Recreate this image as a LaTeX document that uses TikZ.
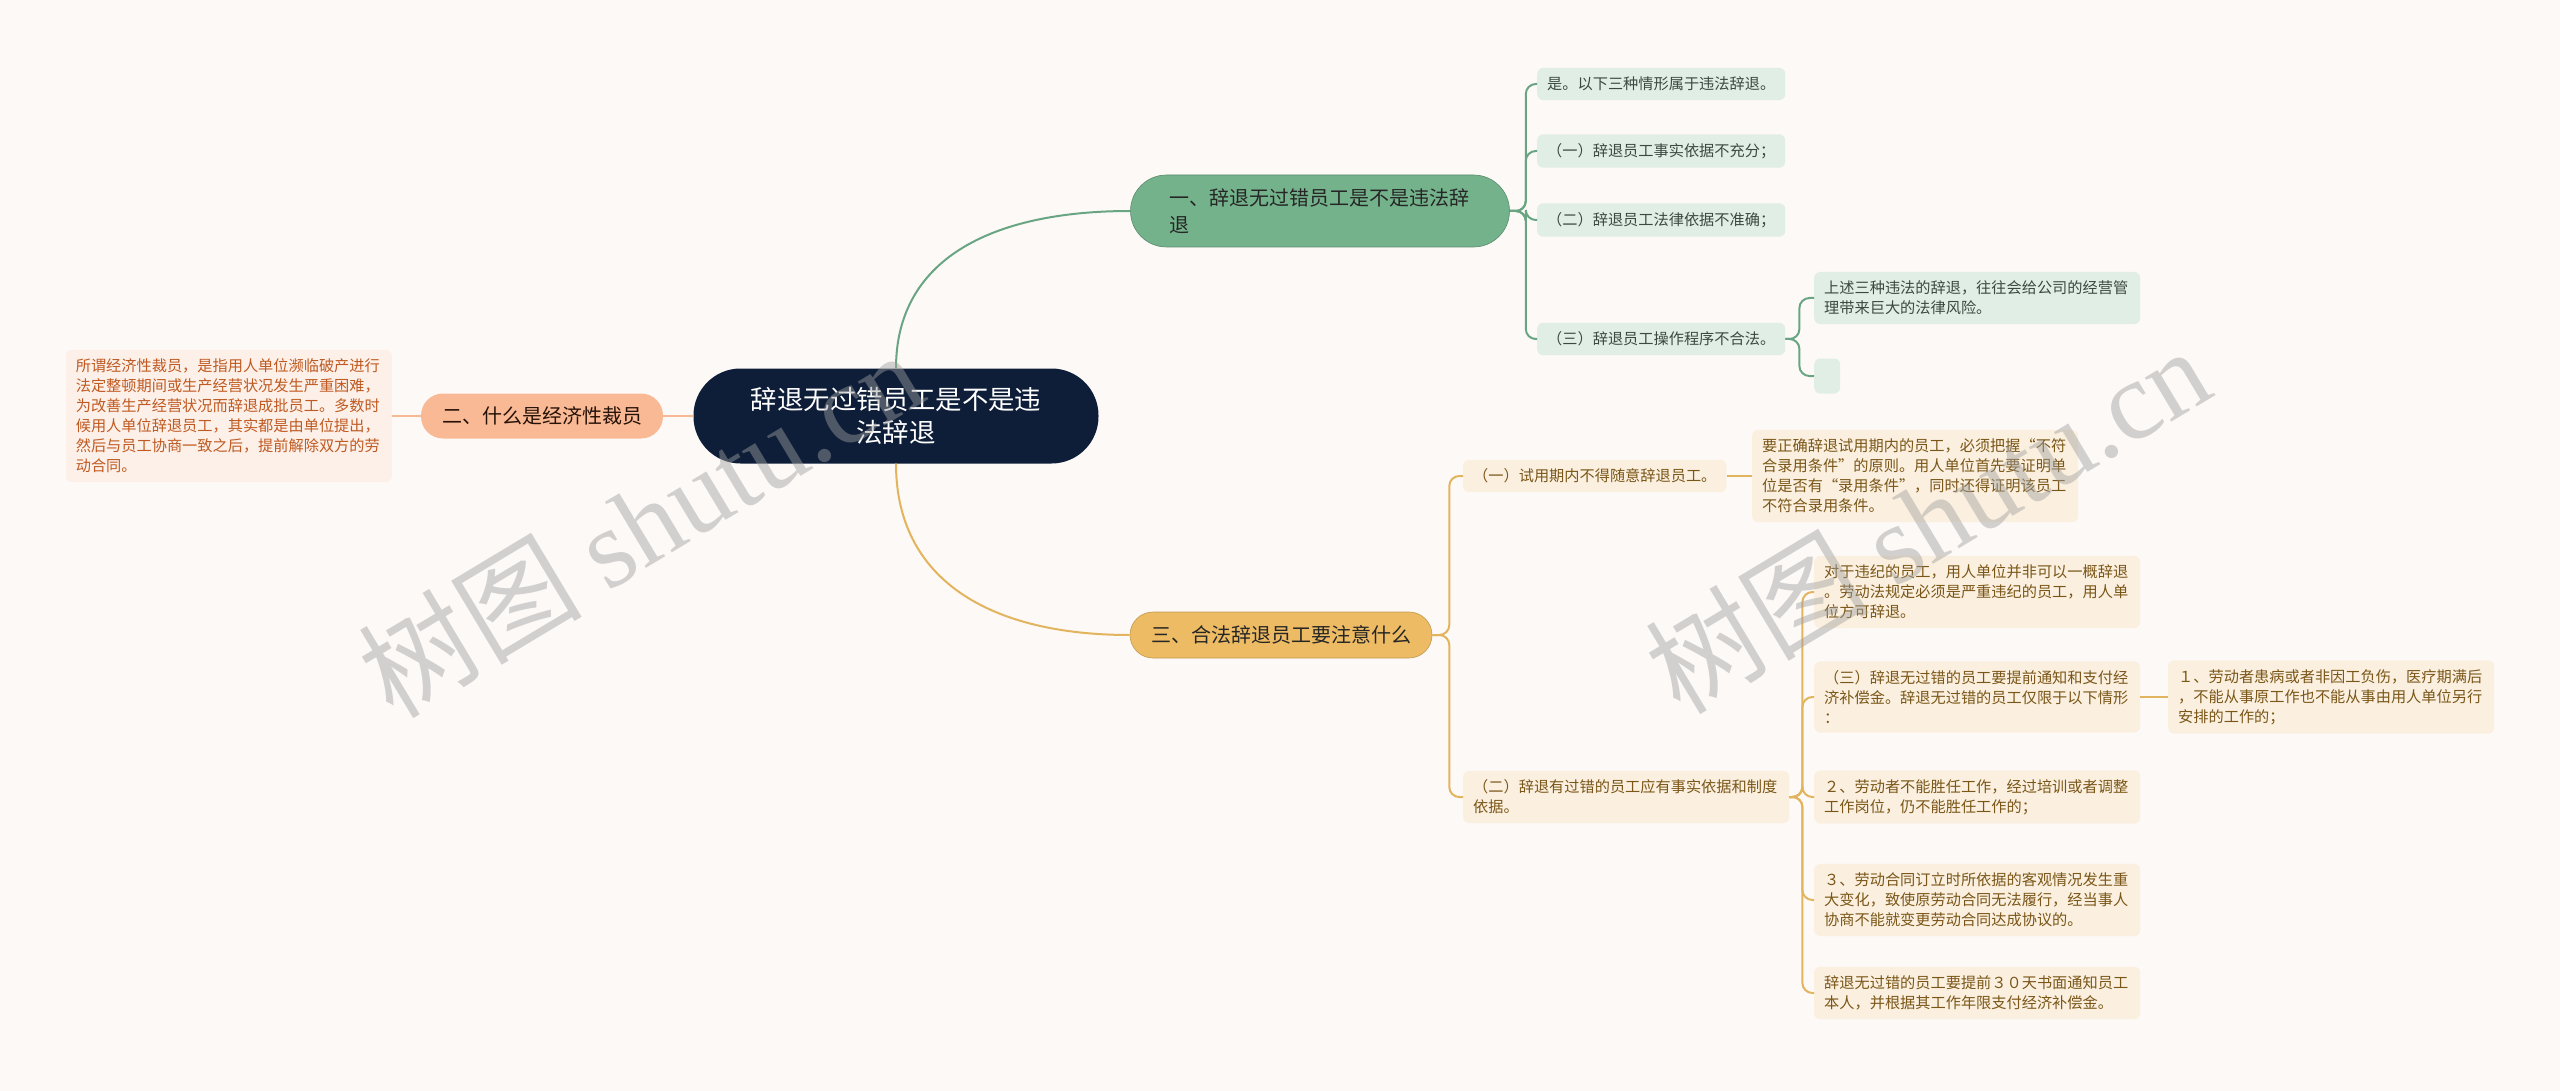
\documentclass[tikz,border=0pt]{standalone}
\usepackage{fontspec}
\usepackage{tikz}
\usetikzlibrary{calc}
\newfontfamily\cjk{Noto Sans CJK SC}
\newfontfamily\wmlatin{Liberation Serif}

\definecolor{bgcol}{HTML}{FDF9F7}
\definecolor{rootcol}{HTML}{0E1E38}
\definecolor{greenmain}{HTML}{74B28B}
\definecolor{greenline}{HTML}{6AA583}
\definecolor{greenleaf}{HTML}{E1EEE5}
\definecolor{greentext}{HTML}{3A4A40}
\definecolor{orangemain}{HTML}{F9B995}
\definecolor{orangeleaf}{HTML}{FDF0E8}
\definecolor{orangetext}{HTML}{BF5A22}
\definecolor{yellowmain}{HTML}{EDBB63}
\definecolor{yellowline}{HTML}{E3B45E}
\definecolor{yellowleaf}{HTML}{FBF0DF}
\definecolor{yellowtext}{HTML}{7A5618}

\tikzset{
  leaf/.style={rounded corners=6pt, inner xsep=10pt, inner ysep=9pt,
    font=\cjk\fontsize{15.2}{20}\selectfont, align=left, anchor=west},
  gleaf/.style={leaf, fill=greenleaf, text=greentext},
  yleaf/.style={leaf, fill=yellowleaf, text=yellowtext},
  oleaf/.style={leaf, fill=orangeleaf, text=orangetext},
  topic/.style={font=\cjk\fontsize{20}{27}\selectfont, inner sep=0pt},
  gline/.style={draw=greenline, line width=2pt, rounded corners=10pt},
  yline/.style={draw=yellowline, line width=2pt, rounded corners=10pt},
  oline/.style={draw=orangemain, line width=2pt},
  wmark/.style={text=gray!75, opacity=0.45, rotate=31,
    font=\cjk\fontsize{112}{112}\selectfont}
}

\begin{document}
\begin{tikzpicture}[x=1pt, y=-1pt]
  \useasboundingbox (0,0) rectangle (2560,1091);
  \fill[bgcol] (0,0) rectangle (2560,1091);

  % Root
  \node[fill=rootcol, text=white, rounded corners=47pt, minimum width=405pt,
    minimum height=95pt, text width=292pt, align=center, inner sep=0pt,
    font=\cjk\fontsize{26.4}{33}\selectfont] (root) at (896,416)
    {辞退无过错员工是不是违\\法辞退};

  % Main topics
  \node[topic, fill=greenmain, draw=greenline!85!black, line width=0.6pt,
    rounded corners=36pt, minimum width=379pt, minimum height=72pt,
    text width=302pt, align=left, text=black!85] (t1) at (1320,211)
    {一、辞退无过错员工是不是违法辞\\退};
  \node[topic, fill=orangemain, rounded corners=22pt, minimum width=242pt,
    minimum height=45pt, text=black!80!orangetext] (t2) at (542,416)
    {二、什么是经济性裁员};
  \node[topic, fill=yellowmain, draw=yellowline!85!black, line width=0.6pt,
    rounded corners=23pt, minimum width=302pt, minimum height=46pt,
    text=black!85] (t3) at (1281,635) {三、合法辞退员工要注意什么};

  % Branch one
  \node[gleaf] (g0) at (1537,84) {是。以下三种情形属于违法辞退。};
  \node[gleaf] (g1) at (1537,151) {（一）辞退员工事实依据不充分；};
  \node[gleaf] (g2) at (1537,220) {（二）辞退员工法律依据不准确；};
  \node[gleaf] (g3) at (1537,339) {（三）辞退员工操作程序不合法。};
  \node[gleaf, text width=306pt] (g3a) at (1814,298)
    {上述三种违法的辞退，往往会给公司的经营管\\理带来巨大的法律风险。};
  \node[gleaf, minimum width=26pt, minimum height=35pt, inner sep=0pt] (g3b) at (1814,376) {};

  % Branch two
  \node[oleaf, text width=306pt, anchor=east] (o1) at (392,416)
    {所谓经济性裁员，是指用人单位濒临破产进行\\法定整顿期间或生产经营状况发生严重困难，\\为改善生产经营状况而辞退成批员工。多数时\\候用人单位辞退员工，其实都是由单位提出，\\然后与员工协商一致之后，提前解除双方的劳\\动合同。};

  % Branch three
  \node[yleaf] (y1) at (1463,476) {（一）试用期内不得随意辞退员工。};
  \node[yleaf, text width=306pt] (y1a) at (1752,476)
    {要正确辞退试用期内的员工，必须把握“不符\\合录用条件”的原则。用人单位首先要证明单\\位是否有“录用条件”，同时还得证明该员工\\不符合录用条件。};
  \node[yleaf, text width=306pt] (y2) at (1463,797)
    {（二）辞退有过错的员工应有事实依据和制度\\依据。};
  \node[yleaf, text width=306pt] (y2a) at (1814,592)
    {对于违纪的员工，用人单位并非可以一概辞退\\。劳动法规定必须是严重违纪的员工，用人单\\位方可辞退。};
  \node[yleaf, text width=306pt] (y2b) at (1814,697)
    {（三）辞退无过错的员工要提前通知和支付经\\济补偿金。辞退无过错的员工仅限于以下情形\\：};
  \node[yleaf, text width=306pt] (y2b1) at (2168,697)
    {１、劳动者患病或者非因工负伤，医疗期满后\\，不能从事原工作也不能从事由用人单位另行\\安排的工作的；};
  \node[yleaf, text width=306pt] (y2c) at (1814,797)
    {２、劳动者不能胜任工作，经过培训或者调整\\工作岗位，仍不能胜任工作的；};
  \node[yleaf, text width=306pt] (y2d) at (1814,900)
    {３、劳动合同订立时所依据的客观情况发生重\\大变化，致使原劳动合同无法履行，经当事人\\协商不能就变更劳动合同达成协议的。};
  \node[yleaf, text width=306pt] (y2e) at (1814,993)
    {辞退无过错的员工要提前３０天书面通知员工\\本人，并根据其工作年限支付经济补偿金。};

  % Connectors from the root
  \draw[gline] (root.north) .. controls (896,260) and (990,211) .. (t1.west);
  \draw[yline] (root.south) .. controls (896,580) and (990,635) .. (t3.west);
  \draw[oline] (root.west) -- (t2.east);
  \draw[oline] (t2.west) -- (o1.east);

  % Brackets
  \foreach \c in {g0,g1,g2,g3}
    \draw[gline] (t1.east) -- ++(16,0) |- (\c.west);
  \foreach \c in {g3a,g3b}
    \draw[gline] (g3.east) -- ++(14,0) |- (\c.west);
  \foreach \c in {y1,y2}
    \draw[yline] (t3.east) -- ++(17,0) |- (\c.west);
  \foreach \c in {y2a,y2b,y2c,y2d,y2e}
    \draw[yline] (y2.east) -- ++(13,0) |- (\c.west);
  \draw[yline] (y1.east) -- (y1a.west);
  \draw[yline] (y2b.east) -- (y2b1.west);

  % Watermarks
  \node[wmark] (wm1) at (640,523) {树图 {\wmlatin shutu.cn}};
  \node[wmark] (wm2) at (1927,519) {树图 {\wmlatin shutu.cn}};
\end{tikzpicture}
\end{document}
